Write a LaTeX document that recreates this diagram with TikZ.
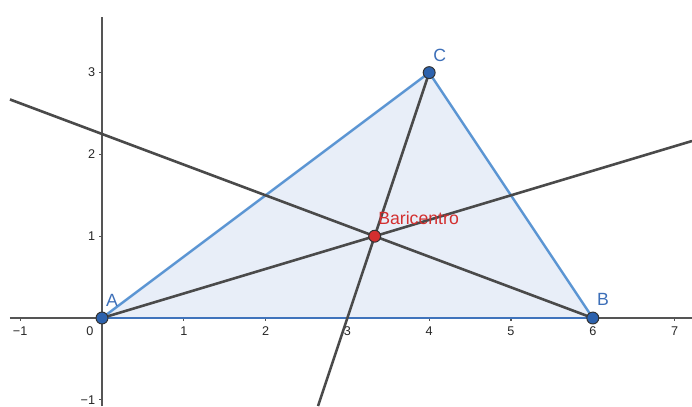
\documentclass[tikz,border=0pt]{standalone}
\usepackage{fontspec}
\setmainfont{Liberation Sans}
\usepackage{xcolor}
\usepackage{tikz}
\definecolor{axisgray}{HTML}{555555}
\definecolor{mediangray}{HTML}{4A4A4A}
\definecolor{edgeblue}{HTML}{5B95D3}
\definecolor{baseblue}{HTML}{3F73BC}
\definecolor{fillblue}{HTML}{E8EEF8}
\definecolor{ptblue}{HTML}{2D62AD}
\definecolor{labelblue}{HTML}{3D6FB8}
\definecolor{ptred}{HTML}{D32F2F}

\begin{document}
\begin{tikzpicture}[x=2cm,y=2cm,
  axis/.style={draw=axisgray,line width=1pt},
  tick/.style={draw=axisgray,line width=0.8pt},
  ticklabel/.style={font=\fontsize{8.8}{10}\selectfont,text=black!85,inner sep=0pt},
  side/.style={draw=edgeblue,line width=1.7pt,line cap=round},
  median/.style={draw=mediangray,line width=1.8pt},
  vertex/.style={circle,fill=ptblue,draw=black!80,line width=0.7pt,inner sep=0pt,minimum size=8.3pt},
  centroid/.style={vertex,fill=ptred},
  ptlabel/.style={font=\fontsize{12.3}{14}\selectfont,text=labelblue,inner sep=0pt}
]
\useasboundingbox (-1.247,-1.076) rectangle (7.213,3.888);

% axes
\coordinate (xl) at (-1.125,0);
\coordinate (xr) at (7.213,0);
\coordinate (yb) at (0,-1.076);
\coordinate (yt) at (0,3.68);
\draw[axis] (xl) -- (xr);
\draw[axis] (yb) -- (yt);
\foreach \x in {-1,1,2,...,7}{
  \draw[tick] (\x,0) -- (\x,-0.04);
  \node[ticklabel,anchor=north] at (\x,-0.1) {\ifnum\x<0 −\the\numexpr-\x\relax\else\x\fi};
}
\node[ticklabel,anchor=north] (zero) at (-0.147,-0.1) {0};
\foreach \y in {-1,1,2,3}{
  \draw[tick] (0,\y) -- (-0.04,\y);
  \node[ticklabel,anchor=east] at (-0.08,\y) {\ifnum\y<0 −\the\numexpr-\y\relax\else\y\fi};
}

% triangle
\coordinate (A) at (0,0);
\coordinate (B) at (6,0);
\coordinate (C) at (4,3);
\coordinate (G) at (10/3,1);
\fill[fillblue] (A) -- (B) -- (C) -- cycle;
\draw[side,draw=baseblue] (A) -- (B);
\draw[side] (B) -- (C) -- (A);

% medians as rays
\coordinate (endA) at (7.213,2.164);
\coordinate (endB) at (-1.125,2.672);
\coordinate (endC) at (2.641,-1.076);
\draw[median] (A) -- (endA);
\draw[median] (B) -- (endB);
\draw[median] (C) -- (endC);

% points
\node[vertex] (pA) at (A) {};
\node[vertex] (pB) at (B) {};
\node[vertex] (pC) at (C) {};
\node[centroid] (pG) at (G) {};
\node[ptlabel] (labA) at (0.122,0.22) {A};
\node[ptlabel] (labB) at (6.125,0.232) {B};
\node[ptlabel] (labC) at (4.13,3.215) {C};
\node[ptlabel,text=ptred] (labG) at (3.87,1.222) {Baricentro};
\end{tikzpicture}
\end{document}
